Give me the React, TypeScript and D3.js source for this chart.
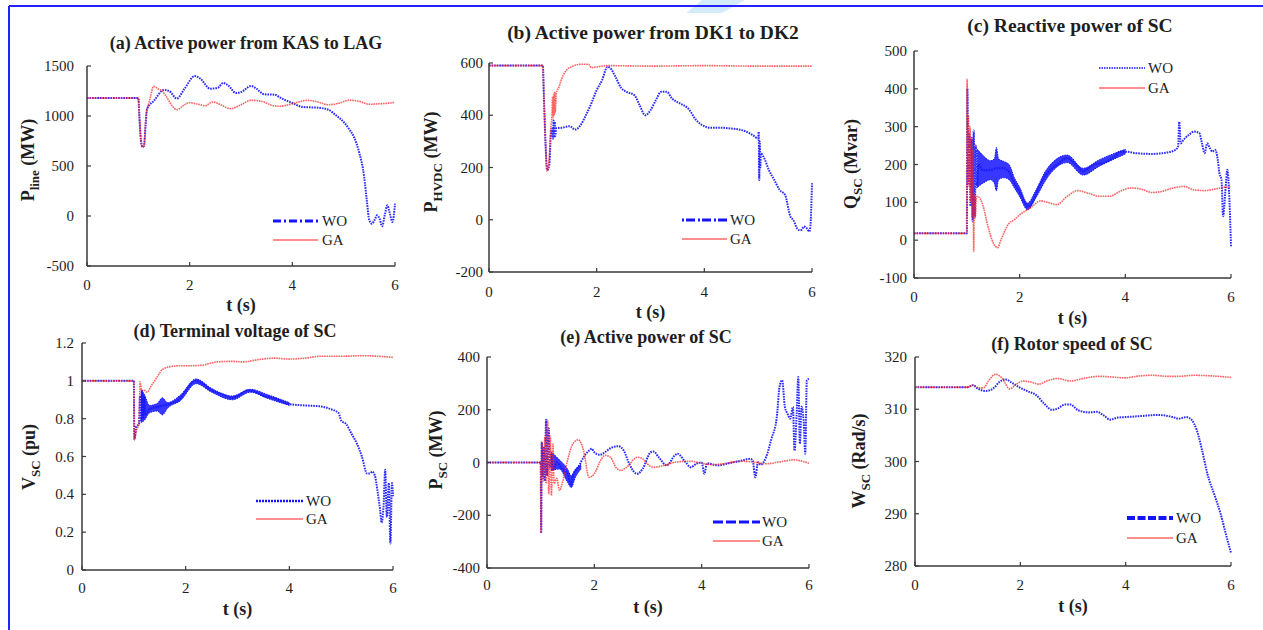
import React from 'react';
import * as d3 from 'd3';

type Pt = [number, number];
type BandPt = [number, number, number];

const timeTicks = [0, 2, 4, 6];
const legendNames = ['WO', 'GA'];

// (a) Active power from KAS to LAG
const aTitle = '(a) Active power from KAS to LAG';
const aTicks = [-500, 0, 500, 1000, 1500];
const aWO: Pt[] = [[0,1180],[1.0,1180],[1.02,1000],[1.05,760],[1.08,690],[1.11,700],[1.14,900],[1.17,1070],[1.3,1150],[1.5,1260],[1.6,1250],[1.75,1175],[1.9,1273],[2.1,1400],[2.2,1377],[2.4,1273],[2.55,1283],[2.65,1330],[2.75,1307],[2.9,1230],[3.0,1240],[3.2,1300],[3.3,1273],[3.45,1217],[3.65,1213],[3.8,1173],[4.0,1130],[4.2,1090],[4.5,1083],[4.7,1063],[4.85,1007],[5.0,940],[5.1,873],[5.2,790],[5.3,640],[5.4,390],[5.45,157],[5.5,-43],[5.55,-77],[5.6,-43],[5.65,7],[5.7,-27],[5.75,-103],[5.8,7],[5.85,107],[5.9,23],[5.95,-60],[6.0,123]];
const aGA: Pt[] = [[0,1180],[1.0,1180],[1.02,1000],[1.05,760],[1.08,690],[1.11,700],[1.15,1000],[1.22,1157],[1.3,1297],[1.38,1273],[1.45,1257],[1.55,1190],[1.65,1107],[1.75,1063],[1.9,1113],[2.0,1133],[2.15,1120],[2.3,1103],[2.45,1140],[2.6,1113],[2.8,1073],[3.0,1113],[3.2,1157],[3.4,1147],[3.6,1107],[3.75,1097],[4.0,1123],[4.3,1157],[4.5,1140],[4.7,1113],[4.9,1127],[5.1,1157],[5.3,1147],[5.5,1117],[5.7,1123],[5.85,1127],[6.0,1137]];

// (b) Active power from DK1 to DK2
const bTitle = '(b) Active power from DK1 to DK2';
const bTicks = [-200, 0, 200, 400, 600];
const bWO: Pt[] = [[0,590],[1.0,590],[1.02,470],[1.05,292],[1.08,190],[1.12,209],[1.15,330],[1.17,349],[1.19,310],[1.2,380],[1.21,315],[1.22,375],[1.23,320],[1.25,350],[1.35,352],[1.5,358],[1.6,345],[1.7,362],[1.8,400],[1.9,445],[2.0,496],[2.1,534],[2.2,585],[2.25,581],[2.35,547],[2.45,506],[2.55,490],[2.7,477],[2.8,438],[2.9,400],[3.0,419],[3.1,458],[3.2,490],[3.3,490],[3.4,464],[3.55,445],[3.7,426],[3.85,381],[4.0,358],[4.1,352],[4.3,352],[4.5,349],[4.7,343],[4.9,324],[5.0,311],[5.01,337],[5.02,152],[5.03,300],[5.04,200],[5.05,254],[5.1,241],[5.2,190],[5.3,152],[5.4,114],[5.5,95],[5.6,12],[5.65,0],[5.75,-39],[5.8,-39],[5.85,-26],[5.9,-32],[5.95,-45],[5.97,-26],[6.0,140]];
const bGA: Pt[] = [[0,590],[1.0,590],[1.02,470],[1.05,292],[1.08,185],[1.12,241],[1.15,356],[1.17,400],[1.18,470],[1.19,390],[1.2,480],[1.21,400],[1.22,490],[1.23,410],[1.25,483],[1.3,508],[1.35,540],[1.45,575],[1.55,587],[1.7,595],[1.85,595],[1.9,582],[2.0,585],[2.2,590],[3.0,588],[4.0,590],[5.0,588],[6.0,588]];

// (c) Reactive power of SC
const cTitle = '(c) Reactive power of SC';
const cTicks = [-100, 0, 100, 200, 300, 400, 500];
const cWO: Pt[] = [[0,18],[1.0,18],[1.01,400],[1.03,150],[1.05,280],[1.07,90],[1.09,270],[1.11,50],[1.13,290],[1.15,60],[1.17,250],[1.19,140],[1.22,200],[1.3,185],[1.45,185],[1.55,190],[1.7,190],[1.8,180],[1.9,151],[2.0,128],[2.1,98],[2.15,89],[2.25,102],[2.35,138],[2.5,173],[2.7,199],[2.9,217],[3.0,208],[3.1,195],[3.2,182],[3.3,190],[3.4,199],[3.6,205],[3.8,221],[3.9,234],[4.0,234],[4.2,230],[4.5,228],[4.8,232],[4.95,239],[5.0,248],[5.02,313],[5.05,256],[5.1,265],[5.2,278],[5.3,287],[5.4,283],[5.45,256],[5.5,230],[5.55,256],[5.6,243],[5.65,234],[5.7,239],[5.75,212],[5.78,177],[5.82,160],[5.85,63],[5.9,142],[5.93,186],[5.97,107],[6.0,-16]];
const cWOBand: BandPt[] = [[1.2,140,240],[1.3,150,225],[1.45,160,210],[1.52,150,215],[1.56,130,245],[1.6,160,215],[1.7,165,208],[1.8,160,200],[1.9,138,165],[2.0,115,140],[2.15,80,98],[2.3,110,130],[2.5,160,185],[2.9,205,225],[3.2,172,190],[3.5,195,212],[3.8,215,230],[4.0,228,240]];
const cGA: Pt[] = [[0,18],[1.0,18],[1.005,425],[1.02,150],[1.03,330],[1.045,140],[1.06,300],[1.075,100],[1.09,270],[1.1,60],[1.115,240],[1.13,-30],[1.14,120],[1.16,60],[1.18,110],[1.2,116],[1.3,94],[1.4,36],[1.5,-7],[1.58,-20],[1.65,2],[1.8,45],[1.9,54],[2.0,67],[2.2,85],[2.4,104],[2.5,101],[2.7,94],[2.9,116],[3.1,131],[3.3,124],[3.5,116],[3.7,116],[3.9,129],[4.1,138],[4.3,135],[4.5,126],[4.7,129],[4.9,138],[5.1,142],[5.3,133],[5.5,131],[5.7,135],[5.9,140],[6.0,140]];

// (d) Terminal voltage of SC
const dTitle = '(d) Terminal voltage of SC';
const dTicks = [0, 0.2, 0.4, 0.6, 0.8, 1, 1.2];
const dWO: Pt[] = [[0,1.0],[1.0,1.0],[1.01,0.69],[1.05,0.76],[1.1,0.77],[1.12,0.92],[1.14,0.79],[1.16,0.95],[1.18,0.8],[1.2,0.92],[1.22,0.82],[1.3,0.85],[1.5,0.865],[1.7,0.88],[1.9,0.91],[2.0,0.95],[2.2,1.0],[2.3,0.99],[2.5,0.95],[2.7,0.93],[2.9,0.91],[3.0,0.92],[3.2,0.95],[3.3,0.945],[3.5,0.92],[3.7,0.91],[3.9,0.885],[4.0,0.877],[4.3,0.87],[4.6,0.865],[4.8,0.85],[4.95,0.83],[5.0,0.79],[5.1,0.77],[5.2,0.72],[5.3,0.67],[5.4,0.6],[5.5,0.51],[5.55,0.51],[5.6,0.52],[5.65,0.5],[5.7,0.42],[5.75,0.32],[5.78,0.25],[5.82,0.35],[5.85,0.53],[5.88,0.28],[5.92,0.46],[5.95,0.14],[5.98,0.46],[6.0,0.39]];
const dWOBand: BandPt[] = [[1.14,0.78,0.95],[1.2,0.79,0.93],[1.3,0.83,0.87],[1.45,0.84,0.88],[1.55,0.82,0.91],[1.65,0.855,0.885],[1.9,0.895,0.925],[2.2,0.985,1.01],[2.5,0.94,0.96],[2.9,0.9,0.92],[3.25,0.94,0.955],[3.6,0.905,0.925],[4.0,0.87,0.885]];
const dGA: Pt[] = [[0,1.0],[1.0,1.0],[1.01,0.69],[1.05,0.74],[1.1,0.77],[1.12,0.995],[1.15,0.95],[1.2,0.95],[1.25,0.94],[1.35,0.98],[1.45,1.02],[1.55,1.06],[1.7,1.075],[1.9,1.08],[2.1,1.08],[2.3,1.082],[2.6,1.1],[2.9,1.103],[3.1,1.1],[3.4,1.112],[3.7,1.12],[4.0,1.115],[4.3,1.12],[4.6,1.13],[5.0,1.13],[5.4,1.133],[5.7,1.13],[6.0,1.124]];

// (e) Active power of SC
const eTitle = '(e) Active power of SC';
const eTicks = [-400, -200, 0, 200, 400];
const eWO: Pt[] = [[0,0],[1.0,0],[1.01,-267],[1.02,77],[1.04,-60],[1.06,60],[1.08,-70],[1.1,162],[1.12,-50],[1.15,130],[1.17,-20],[1.2,30],[1.22,-30],[1.3,0],[1.4,-24],[1.5,-43],[1.57,-87],[1.6,-49],[1.7,-18],[1.8,20],[1.9,45],[1.95,52],[2.0,39],[2.1,29],[2.2,39],[2.3,54],[2.45,62],[2.55,45],[2.65,-5],[2.8,-43],[2.9,-24],[3.05,39],[3.1,42],[3.2,20],[3.35,-11],[3.5,27],[3.55,33],[3.7,1],[3.8,-18],[3.9,-5],[4.0,0],[4.05,-43],[4.1,-3],[4.3,-11],[4.5,-3],[4.7,5],[4.9,14],[4.95,8],[5.0,-56],[5.05,1],[5.1,-8],[5.2,20],[5.3,90],[5.4,172],[5.45,286],[5.5,312],[5.55,211],[5.6,185],[5.65,166],[5.7,211],[5.73,45],[5.77,185],[5.8,324],[5.83,71],[5.86,211],[5.9,160],[5.93,33],[5.96,312],[6.0,317]];
const eWOBand: BandPt[] = [[1.2,-30,40],[1.35,-25,10],[1.5,-75,-25],[1.57,-95,-50],[1.65,-55,-25],[1.75,-25,-8]];
const eGA: Pt[] = [[0,0],[1.0,0],[1.01,-267],[1.02,80],[1.05,-70],[1.08,100],[1.1,-80],[1.13,160],[1.15,-120],[1.18,100],[1.2,-125],[1.23,70],[1.25,-80],[1.3,-60],[1.35,-106],[1.4,-81],[1.5,8],[1.6,71],[1.7,86],[1.8,45],[1.9,-56],[2.0,-43],[2.1,1],[2.2,27],[2.3,20],[2.4,-18],[2.5,-30],[2.6,-18],[2.8,20],[2.9,14],[3.0,-8],[3.1,-18],[3.3,-11],[3.5,1],[3.8,5],[4.0,-3],[4.2,-8],[4.4,-5],[4.7,5],[5.0,1],[5.2,-5],[5.5,4],[5.7,10],[6.0,-3]];

// (f) Rotor speed of SC
const fTitle = '(f) Rotor speed of SC';
const fTicks = [280, 290, 300, 310, 320];
const fWO: Pt[] = [[0,314.2],[1.0,314.2],[1.1,314.6],[1.2,313.9],[1.35,313.5],[1.5,314.1],[1.6,315.2],[1.72,315.7],[1.85,315.0],[2.0,314.1],[2.15,313.4],[2.3,312.7],[2.45,311.1],[2.6,309.9],[2.7,310.1],[2.85,310.9],[2.95,310.9],[3.1,309.8],[3.3,309.4],[3.45,309.5],[3.6,308.7],[3.7,308.0],[3.85,308.4],[4.0,308.5],[4.3,308.7],[4.6,308.9],[4.9,308.5],[5.0,308.2],[5.15,308.5],[5.25,308.0],[5.35,306.0],[5.45,302.2],[5.55,297.7],[5.7,293.2],[5.8,290.1],[5.9,286.2],[6.0,282.5]];
const fGA: Pt[] = [[0,314.2],[1.0,314.2],[1.1,314.6],[1.2,314.1],[1.3,314.1],[1.4,315.5],[1.53,316.7],[1.65,316.0],[1.8,313.9],[1.9,314.6],[2.05,315.4],[2.2,315.2],[2.35,314.8],[2.5,315.4],[2.7,315.9],[2.95,315.4],[3.2,315.9],[3.5,316.3],[3.7,316.2],[4.0,316.0],[4.2,316.3],[4.5,316.5],[4.8,316.3],[5.0,316.3],[5.3,316.5],[5.6,316.4],[6.0,316.1]];

const SERIF = "'Liberation Serif', 'Times New Roman', serif";
const BLUE = '#1414ff';
const RED = '#ff1e1e';

type PanelCfg = {
  title: string; titleSize: number; titleX: number; titleY: number;
  x0: number; x1: number; yTop: number; yBot: number;
  domain: [number, number]; ticks: number[]; tickFmt: (v: number) => string; tickRight: number;
  xTickY: number; xLabelY: number;
  yMain: string; ySub: string; yUnit: string; yLabX: number; yLabY: number;
  legX1: number; legX2: number; legTextX: number; legY1: number; legY2: number;
  legWODash: string; legWOWidth: number;
  wo: Pt[]; ga: Pt[]; band?: BandPt[];
};

const fmtInt = (v: number) => String(v);
const fmtDec = (v: number) => (v === 0 ? '0' : v === 1 ? '1' : String(v));

const panels: PanelCfg[] = [
  { title: aTitle, titleSize: 18, titleX: 246, titleY: 49, x0: 87, x1: 395, yTop: 66, yBot: 266,
    domain: [-500, 1500], ticks: aTicks, tickFmt: fmtInt, tickRight: 74, xTickY: 290, xLabelY: 311,
    yMain: 'P', ySub: 'line', yUnit: ' (MW)', yLabX: 34, yLabY: 160,
    legX1: 273, legX2: 318, legTextX: 322, legY1: 221, legY2: 240, legWODash: '8 3 2 3', legWOWidth: 3,
    wo: aWO, ga: aGA },
  { title: bTitle, titleSize: 19.5, titleX: 653, titleY: 39, x0: 489, x1: 812, yTop: 63, yBot: 272,
    domain: [-200, 600], ticks: bTicks, tickFmt: fmtInt, tickRight: 483, xTickY: 297, xLabelY: 318,
    yMain: 'P', ySub: 'HVDC', yUnit: ' (MW)', yLabX: 437, yLabY: 162,
    legX1: 682, legX2: 727, legTextX: 730, legY1: 220, legY2: 239, legWODash: '2 2 9 3', legWOWidth: 3,
    wo: bWO, ga: bGA },
  { title: cTitle, titleSize: 19.5, titleX: 1070, titleY: 32, x0: 914, x1: 1231, yTop: 51, yBot: 278,
    domain: [-100, 500], ticks: cTicks, tickFmt: fmtInt, tickRight: 907, xTickY: 302, xLabelY: 324,
    yMain: 'Q', ySub: 'SC', yUnit: ' (Mvar)', yLabX: 857, yLabY: 164,
    legX1: 1099, legX2: 1145, legTextX: 1148, legY1: 68, legY2: 88, legWODash: '1.5 1', legWOWidth: 1.6,
    wo: cWO, ga: cGA, band: cWOBand },
  { title: dTitle, titleSize: 18, titleX: 235, titleY: 337, x0: 82, x1: 393, yTop: 343, yBot: 570,
    domain: [0, 1.2], ticks: dTicks, tickFmt: fmtDec, tickRight: 74, xTickY: 593, xLabelY: 615,
    yMain: 'V', ySub: 'SC', yUnit: ' (pu)', yLabX: 35, yLabY: 457,
    legX1: 256, legX2: 303, legTextX: 306, legY1: 501, legY2: 519, legWODash: '2 1', legWOWidth: 2.5,
    wo: dWO, ga: dGA, band: dWOBand },
  { title: eTitle, titleSize: 18, titleX: 646, titleY: 343, x0: 487, x1: 809, yTop: 357, yBot: 568,
    domain: [-400, 400], ticks: eTicks, tickFmt: fmtInt, tickRight: 480, xTickY: 590, xLabelY: 613,
    yMain: 'P', ySub: 'SC', yUnit: ' (MW)', yLabX: 442, yLabY: 450,
    legX1: 713, legX2: 760, legTextX: 762, legY1: 522, legY2: 541, legWODash: '10 3', legWOWidth: 3,
    wo: eWO, ga: eGA, band: eWOBand },
  { title: fTitle, titleSize: 18, titleX: 1072, titleY: 350, x0: 915, x1: 1231, yTop: 357, yBot: 566,
    domain: [280, 320], ticks: fTicks, tickFmt: fmtInt, tickRight: 907, xTickY: 590, xLabelY: 612,
    yMain: 'W', ySub: 'SC', yUnit: ' (Rad/s)', yLabX: 865, yLabY: 461,
    legX1: 1127, legX2: 1173, legTextX: 1176, legY1: 518, legY2: 538, legWODash: '8 2.5', legWOWidth: 4,
    wo: fWO, ga: fGA },
];

function Panel({ cfg }: { cfg: PanelCfg }) {
  const x = d3.scaleLinear().domain([0, 6]).range([cfg.x0, cfg.x1]);
  const y = d3.scaleLinear().domain(cfg.domain).range([cfg.yBot, cfg.yTop]);
  const line = d3.line<Pt>().x(d => x(d[0])).y(d => y(d[1])).curve(d3.curveMonotoneX);
  const area = d3.area<BandPt>().x(d => x(d[0])).y0(d => y(d[1])).y1(d => y(d[2])).curve(d3.curveMonotoneX);
  const axisColor = '#3a3a3a';
  const textColor = '#1e1e1e';
  return (
    <g>
      <text x={cfg.titleX} y={cfg.titleY} textAnchor="middle" fontFamily={SERIF} fontWeight="bold"
        fontSize={cfg.titleSize} fill={textColor}>{cfg.title}</text>
      {cfg.band && (
        <path d={area(cfg.band) || ''} fill={BLUE} fillOpacity={0.85} stroke={BLUE} strokeWidth={1}
          strokeDasharray="1.5 1" />
      )}
      <path d={line(cfg.wo) || ''} fill="none" stroke={BLUE} strokeWidth={2} strokeDasharray="1.6 1"
        strokeOpacity={0.9} />
      <path d={line(cfg.ga) || ''} fill="none" stroke={RED} strokeWidth={1.6} strokeDasharray="1.6 0.8"
        strokeOpacity={0.7} />
      {/* axes */}
      <line x1={cfg.x0} y1={cfg.yTop} x2={cfg.x0} y2={cfg.yBot} stroke={axisColor} strokeWidth={1.5} />
      <line x1={cfg.x0} y1={cfg.yBot} x2={cfg.x1} y2={cfg.yBot} stroke={axisColor} strokeWidth={1.5} />
      {cfg.ticks.map(t => (
        <g key={'y' + t}>
          <line x1={cfg.x0} x2={cfg.x0 + 4} y1={y(t)} y2={y(t)} stroke={axisColor} strokeWidth={1.2} />
          <text x={cfg.tickRight} y={y(t) + 5} textAnchor="end" fontFamily={SERIF} fontSize={15}
            fill={textColor}>{cfg.tickFmt(t)}</text>
        </g>
      ))}
      {timeTicks.map(t => (
        <g key={'x' + t}>
          <line x1={x(t)} x2={x(t)} y1={cfg.yBot} y2={cfg.yBot - 4} stroke={axisColor} strokeWidth={1.2} />
          <text x={x(t)} y={cfg.xTickY} textAnchor="middle" fontFamily={SERIF} fontSize={15}
            fill={textColor}>{t}</text>
        </g>
      ))}
      <text x={(cfg.x0 + cfg.x1) / 2} y={cfg.xLabelY} textAnchor="middle" fontFamily={SERIF}
        fontWeight="bold" fontSize={18} fill={textColor}>t (s)</text>
      <text transform={`translate(${cfg.yLabX},${cfg.yLabY}) rotate(-90)`} textAnchor="middle"
        fontFamily={SERIF} fontWeight="bold" fontSize={18} fill={textColor}>
        <tspan>{cfg.yMain}</tspan>
        <tspan fontSize={13} dy={5}>{cfg.ySub}</tspan>
        <tspan dy={-5}>{cfg.yUnit}</tspan>
      </text>
      {/* legend */}
      <line x1={cfg.legX1} x2={cfg.legX2} y1={cfg.legY1} y2={cfg.legY1} stroke={BLUE}
        strokeWidth={cfg.legWOWidth} strokeDasharray={cfg.legWODash} />
      <text x={cfg.legTextX} y={cfg.legY1 + 5} fontFamily={SERIF} fontSize={15} fill={textColor}>{legendNames[0]}</text>
      <line x1={cfg.legX1} x2={cfg.legX2} y1={cfg.legY2} y2={cfg.legY2} stroke={RED} strokeWidth={1.2} />
      <text x={cfg.legTextX} y={cfg.legY2 + 5} fontFamily={SERIF} fontSize={15} fill={textColor}>{legendNames[1]}</text>
    </g>
  );
}

export default function App() {
  return (
    <svg width={1263} height={630} viewBox="0 0 1263 630"
      style={{ position: 'absolute', left: 0, top: 0, background: '#fff' }}>
      <rect x={0} y={0} width={1263} height={630} fill="#fff" />
      <path d="M686,13 L702,0 L745,0 L722,13 Z" fill="#d4ecf9" />
      <line x1={9} y1={6} x2={1263} y2={6} stroke="#2323ff" strokeWidth={2} />
      <line x1={9} y1={6} x2={9} y2={630} stroke="#2323ff" strokeWidth={2} />
      {panels.map((p, i) => <Panel key={i} cfg={p} />)}
    </svg>
  );
}
